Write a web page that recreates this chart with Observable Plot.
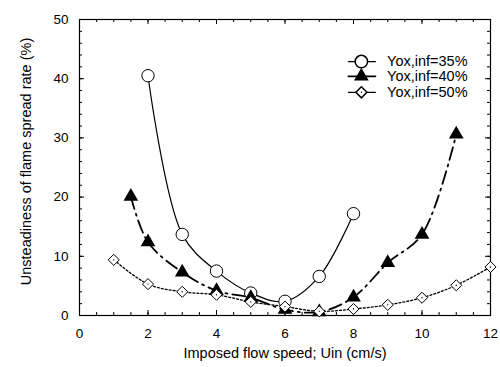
<!DOCTYPE html>
<html><head><meta charset="utf-8">
<script src="https://cdn.jsdelivr.net/npm/d3@7"></script>
<script src="https://cdn.jsdelivr.net/npm/@observablehq/plot@0.6"></script>
<style>body{margin:0;background:#fff}svg{display:block}</style>
</head><body><div id="chart"></div>
<script>
const xs35 = [2, 3, 4, 5, 6, 7, 8];
const ys35 = [40.5, 13.7, 7.5, 3.8, 2.4, 6.6, 17.2];
const xs40 = [1.5, 2, 3, 4, 5, 6, 7, 8, 9, 10, 11];
const ys40 = [20.1, 12.4, 7.3, 4.2, 3.0, 1.0, 0.6, 3.1, 8.9, 13.7, 30.6];
const xs50 = [1, 2, 3, 4, 5, 6, 7, 8, 9, 10, 11, 12];
const ys50 = [9.4, 5.3, 4.0, 3.5, 2.3, 1.5, 0.7, 1.1, 1.8, 3.0, 5.1, 8.2];
const seriesNames = ["Yox,inf=35%", "Yox,inf=40%", "Yox,inf=50%"];
const xMajor = [0, 2, 4, 6, 8, 10, 12];
const yMajor = [0, 10, 20, 30, 40, 50];
const xMinor = d3.range(0, 12.01, 0.5);
const yMinor = d3.range(0, 50.01, 2);
// legend placement in data units
const legX = [7.85, 8.64], legMark = 8.23, legText = 8.98;
const legY = [42.9, 40.4, 37.7];

const mk = (xs, ys) => xs.map((x, i) => ({x, y: ys[i]}));
const d35 = mk(xs35, ys35), d40 = mk(xs40, ys40), d50 = mk(xs50, ys50);
const leg = seriesNames.map((name, i) => ({name, y: legY[i]}));
const legLines = leg.flatMap((d, i) => legX.map(x => ({x, y: d.y, i})));
const dashes = [null, "13,5,2,5", "2,2"];
const font = "'Liberation Sans', Arial, sans-serif";

// inward tick lengths in data units (x: 34.25 px/unit, y: 5.92 px/unit)
const tyMaj = 5 / 5.92, tyMin = 3 / 5.92, txMaj = 5 / 34.25, txMin = 3 / 34.25;

const plot = Plot.plot({
  width: 500, height: 367,
  marginLeft: 79, marginRight: 10, marginTop: 19, marginBottom: 52,
  style: {fontFamily: font, fontSize: "13px", color: "#000", background: "#fff"},
  x: {domain: [0, 12]},
  y: {domain: [0, 50]},
  marks: [
    Plot.axisX({ticks: xMajor, tickSize: 0, tickPadding: 13, tickFormat: d => d, label: null, fontSize: 13.5}),
    Plot.axisY({ticks: yMajor, tickSize: 0, tickPadding: 11, tickFormat: d => d, label: null, fontSize: 13.5}),
    // inward ticks on all four sides
    Plot.ruleX(xMinor, {y1: 0, y2: tyMin, stroke: "#000"}),
    Plot.ruleX(xMajor, {y1: 0, y2: tyMaj, stroke: "#000"}),
    Plot.ruleX(xMinor, {y1: 50 - tyMin, y2: 50, stroke: "#000"}),
    Plot.ruleX(xMajor, {y1: 50 - tyMaj, y2: 50, stroke: "#000"}),
    Plot.ruleY(yMinor, {x1: 0, x2: txMin, stroke: "#000"}),
    Plot.ruleY(yMajor, {x1: 0, x2: txMaj, stroke: "#000"}),
    Plot.ruleY(yMinor, {x1: 12 - txMin, x2: 12, stroke: "#000"}),
    Plot.ruleY(yMajor, {x1: 12 - txMaj, x2: 12, stroke: "#000"}),
    Plot.frame({stroke: "#000", strokeWidth: 1.2}),
    Plot.text(["Imposed flow speed; Uin (cm/s)"], {frameAnchor: "bottom", dy: 42, fontSize: 14.5}),
    Plot.text(["Unsteadiness of flame spread rate (%)"], {frameAnchor: "left", textAnchor: "middle", dx: -53, dy: -6, rotate: -90, fontSize: 14.5}),
    Plot.line(d35, {x: "x", y: "y", curve: "catmull-rom", stroke: "#000", strokeWidth: 1.2}),
    Plot.line(d40, {x: "x", y: "y", curve: "catmull-rom", stroke: "#000", strokeWidth: 1.8, strokeDasharray: dashes[1]}),
    Plot.line(d50, {x: "x", y: "y", curve: "catmull-rom", stroke: "#000", strokeWidth: 1.3, strokeDasharray: dashes[2]}),
    Plot.dot(d35, {x: "x", y: "y", r: 6.2, fill: "#fff", stroke: "#000", strokeWidth: 1}),
    Plot.dot(d40, {x: "x", y: "y", r: 4.5, symbol: "triangle", fill: "#000", stroke: "#000"}),
    Plot.dot(d50, {x: "x", y: "y", r: 5, symbol: "diamond2", fill: "#fff", stroke: "#000", strokeWidth: 1}),
    Plot.dot(d50, {x: "x", y: "y", r: 0.7, fill: "#000"}),
    // legend
    Plot.line(legLines, {x: "x", y: "y", z: "i", stroke: "#000", strokeWidth: d => d.i === 1 ? 1.8 : 1.2,
      strokeDasharray: d => dashes[d.i] ?? "none"}),
    Plot.dot([leg[0]], {x: legMark, y: "y", r: 6.2, fill: "#fff", stroke: "#000"}),
    Plot.dot([leg[1]], {x: legMark, y: "y", r: 4.5, symbol: "triangle", fill: "#000", stroke: "#000"}),
    Plot.dot([leg[2]], {x: legMark, y: "y", r: 5, symbol: "diamond2", fill: "#fff", stroke: "#000"}),
    Plot.dot([leg[2]], {x: legMark, y: "y", r: 0.7, fill: "#000"}),
    Plot.text(leg, {x: legText, y: "y", text: "name", textAnchor: "start", fontSize: 14.5})
  ]
});
document.getElementById("chart").append(plot);
</script></body></html>
